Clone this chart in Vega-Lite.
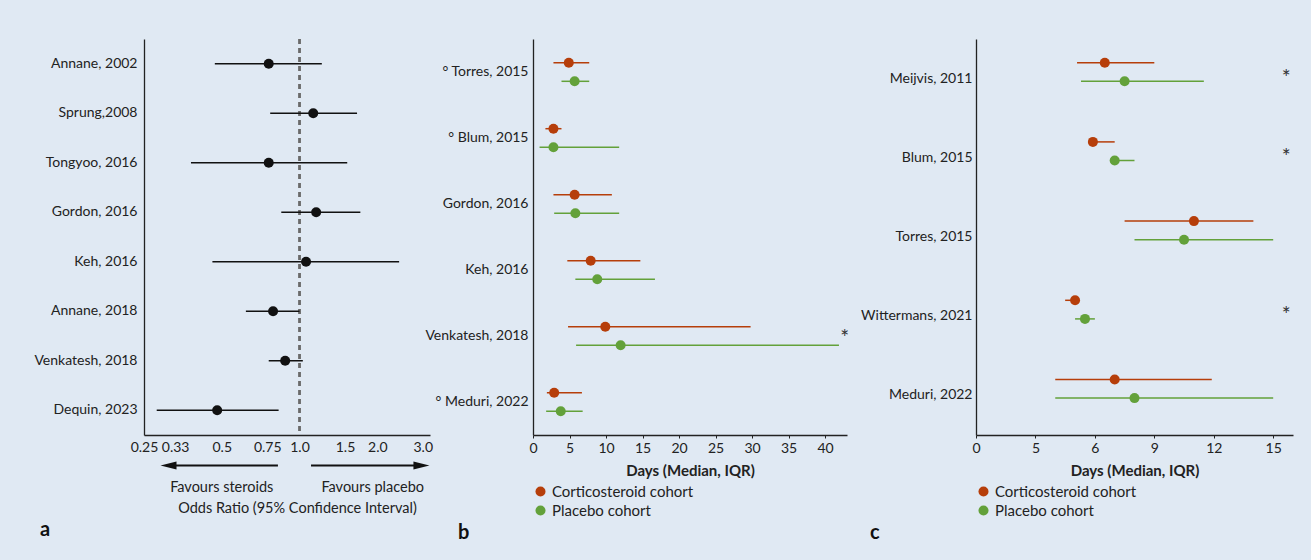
{
  "$schema": "https://vega.github.io/schema/vega-lite/v6.json",
  "background": "#e0e9f3",
  "padding": {"left": 8, "top": 38, "right": 18, "bottom": 24},
  "spacing": -9,
  "config": {
    "font": "Lato",
    "view": {"stroke": null},
    "axis": {"grid": false, "labelFontSize": 14, "labelColor": "#222", "domainColor": "#222", "domainWidth": 1.3, "tickColor": "#222", "titleColor": "#222"},
    "axisX": {"labelOverlap": false, "labelFlush": false},
    "text": {"font": "Lato"}
  },
  "resolve": {"scale": {"color": "independent"}, "legend": {"color": "independent"}},
  "hconcat": [
    {
      "width": 286,
      "height": 396,
      "title": {"text": "a", "orient": "bottom", "anchor": "start", "fontSize": 20, "fontWeight": "bold", "color": "#111", "dx": -104, "frame": "group"},
      "resolve": {"scale": {"y": "independent"}, "axis": {"y": "independent"}},
      "layer": [
        {
          "data": {"values": [
            {"study": "Annane, 2002", "or": 0.76, "lo": 0.47, "hi": 1.22},
            {"study": "Sprung,2008", "or": 1.13, "lo": 0.77, "hi": 1.67},
            {"study": "Tongyoo, 2016", "or": 0.76, "lo": 0.38, "hi": 1.53},
            {"study": "Gordon, 2016", "or": 1.16, "lo": 0.85, "hi": 1.72},
            {"study": "Keh, 2016", "or": 1.06, "lo": 0.46, "hi": 2.43},
            {"study": "Annane, 2018", "or": 0.79, "lo": 0.62, "hi": 1.0},
            {"study": "Venkatesh, 2018", "or": 0.88, "lo": 0.76, "hi": 1.03},
            {"study": "Dequin, 2023", "or": 0.48, "lo": 0.28, "hi": 0.83}
          ]},
          "encoding": {
            "y": {"field": "study", "type": "nominal", "sort": null,
              "scale": {"paddingInner": 0, "paddingOuter": 0},
              "axis": {"title": null, "ticks": false, "labelPadding": 7, "minExtent": 136, "labelLimit": 200}}
          },
          "layer": [
            {"mark": {"type": "rule", "strokeDash": [5, 4], "color": "#6a6a6a", "strokeWidth": 1.5},
             "encoding": {"x": {"datum": 1, "type": "quantitative"}, "y": null}},
            {"mark": {"type": "rule", "color": "#111", "strokeWidth": 1.3},
             "encoding": {
               "x": {"field": "lo", "type": "quantitative",
                 "scale": {"type": "log", "domain": [0.25, 3.2], "nice": false, "zero": false},
                 "axis": {"title": null, "values": [0.25, 0.33, 0.5, 0.75, 1, 1.5, 2, 3], "ticks": false, "labelFlush": false, "labelOverlap": false, "labelPadding": 5,
                   "labelExpr": "datum.value >= 1 ? format(datum.value, '.1f') : format(datum.value, '.2~f')"}},
               "x2": {"field": "hi"}}},
            {"mark": {"type": "point", "filled": true, "opacity": 1, "color": "#111", "size": 100},
             "encoding": {"x": {"field": "or", "type": "quantitative"}}}
          ]
        },
        {
          "data": {"values": [{}]},
          "layer": [
            {"mark": {"type": "rule", "color": "#111", "strokeWidth": 2},
             "encoding": {"x": {"datum": 0.32, "type": "quantitative"}, "x2": {"datum": 0.825},
               "y": {"datum": -0.077, "type": "quantitative", "scale": {"domain": [0, 1], "nice": false, "zero": false}, "axis": null}}},
            {"mark": {"type": "rule", "color": "#111", "strokeWidth": 2},
             "encoding": {"x": {"datum": 1.108, "type": "quantitative"}, "x2": {"datum": 2.9},
               "y": {"datum": -0.077, "type": "quantitative"}}},
            {"mark": {"type": "point", "shape": "M-1,0L1,-0.5L1,0.5Z", "filled": true, "opacity": 1, "color": "#111", "size": 256},
             "encoding": {"x": {"datum": 0.311, "type": "quantitative"}, "y": {"datum": -0.077, "type": "quantitative"}}},
            {"mark": {"type": "point", "shape": "M1,0L-1,-0.5L-1,0.5Z", "filled": true, "opacity": 1, "color": "#111", "size": 256},
             "encoding": {"x": {"datum": 2.965, "type": "quantitative"}, "y": {"datum": -0.077, "type": "quantitative"}}},
            {"mark": {"type": "text", "fontSize": 14.5, "color": "#222", "baseline": "middle"},
             "encoding": {"x": {"datum": 0.5, "type": "quantitative"}, "y": {"datum": -0.1326, "type": "quantitative"}, "text": {"value": "Favours steroids"}}},
            {"mark": {"type": "text", "fontSize": 14.5, "color": "#222", "baseline": "middle"},
             "encoding": {"x": {"datum": 1.92, "type": "quantitative"}, "y": {"datum": -0.1326, "type": "quantitative"}, "text": {"value": "Favours placebo"}}},
            {"mark": {"type": "text", "fontSize": 14.5, "color": "#222", "baseline": "middle"},
             "encoding": {"x": {"datum": 0.982, "type": "quantitative"}, "y": {"datum": -0.188, "type": "quantitative"}, "text": {"value": "Odds Ratio (95% Confidence Interval)"}}}
          ]
        }
      ]
    },
    {
      "width": 314,
      "height": 396,
      "title": {"text": "b", "orient": "bottom", "anchor": "start", "fontSize": 20, "fontWeight": "bold", "color": "#111", "dx": -75, "frame": "group"},
      "layer": [
        {
          "data": {"values": [
            {"study": "° Torres, 2015", "cohort": "Corticosteroid cohort", "median": 4.9, "q1": 2.8, "q3": 7.7},
            {"study": "° Torres, 2015", "cohort": "Placebo cohort", "median": 5.7, "q1": 3.9, "q3": 7.7},
            {"study": "° Blum, 2015", "cohort": "Corticosteroid cohort", "median": 2.8, "q1": 1.7, "q3": 3.9},
            {"study": "° Blum, 2015", "cohort": "Placebo cohort", "median": 2.8, "q1": 0.9, "q3": 11.8},
            {"study": "Gordon, 2016", "cohort": "Corticosteroid cohort", "median": 5.7, "q1": 2.8, "q3": 10.8},
            {"study": "Gordon, 2016", "cohort": "Placebo cohort", "median": 5.8, "q1": 2.9, "q3": 11.8},
            {"study": "Keh, 2016", "cohort": "Corticosteroid cohort", "median": 7.9, "q1": 4.7, "q3": 14.7},
            {"study": "Keh, 2016", "cohort": "Placebo cohort", "median": 8.8, "q1": 5.8, "q3": 16.7},
            {"study": "Venkatesh, 2018", "cohort": "Corticosteroid cohort", "median": 9.9, "q1": 4.8, "q3": 29.8},
            {"study": "Venkatesh, 2018", "cohort": "Placebo cohort", "median": 12.0, "q1": 5.9, "q3": 41.9},
            {"study": "° Meduri, 2022", "cohort": "Corticosteroid cohort", "median": 2.9, "q1": 1.9, "q3": 6.7},
            {"study": "° Meduri, 2022", "cohort": "Placebo cohort", "median": 3.8, "q1": 1.8, "q3": 6.8}
          ]},
          "encoding": {
            "y": {"field": "study", "type": "nominal", "sort": null,
              "scale": {"domain": ["° Torres, 2015", "° Blum, 2015", "Gordon, 2016", "Keh, 2016", "Venkatesh, 2018", "° Meduri, 2022"], "paddingInner": 0, "paddingOuter": 0},
              "axis": {"title": null, "ticks": false, "labelPadding": 5, "minExtent": 91, "labelLimit": 200}},
            "yOffset": {"field": "cohort", "type": "nominal", "scale": {"domain": ["Corticosteroid cohort", "Placebo cohort"], "paddingInner": 0, "paddingOuter": 0.774}},
            "color": {"field": "cohort", "type": "nominal", "scale": {"domain": ["Corticosteroid cohort", "Placebo cohort"], "range": ["#b63e0a", "#63a13a"]},
              "legend": {"orient": "bottom", "direction": "vertical", "title": null, "symbolType": "circle", "symbolSize": 100, "labelFontSize": 15, "labelColor": "#222", "symbolStrokeWidth": 0, "rowPadding": 3, "offset": 6}}
          },
          "layer": [
            {"mark": {"type": "rule", "strokeWidth": 1.5},
             "encoding": {
               "x": {"field": "q1", "type": "quantitative", "scale": {"domain": [0, 43], "nice": false},
                 "axis": {"title": "Days (Median, IQR)", "titleFontSize": 15, "titleFontWeight": "bold", "titlePadding": 8, "values": [0, 5, 10, 15, 20, 25, 30, 35, 40], "tickCount": 9, "tickSize": 3, "labelPadding": 3}},
               "x2": {"field": "q3"}}},
            {"mark": {"type": "point", "filled": true, "opacity": 1, "size": 100},
             "encoding": {"x": {"field": "median", "type": "quantitative",
                 "axis": {"title": "Days (Median, IQR)", "titleFontSize": 15, "titleFontWeight": "bold", "titlePadding": 8, "values": [0, 5, 10, 15, 20, 25, 30, 35, 40], "tickCount": 9, "tickSize": 3, "labelPadding": 3}}}}
          ]
        },
        {
          "data": {"values": [{"study": "Venkatesh, 2018", "sig": "*"}]},
          "mark": {"type": "text", "fontSize": 21, "color": "#333", "baseline": "middle", "dy": 3},
          "encoding": {"x": {"datum": 42.7, "type": "quantitative",
              "axis": {"title": "Days (Median, IQR)", "titleFontSize": 15, "titleFontWeight": "bold", "titlePadding": 8, "values": [0, 5, 10, 15, 20, 25, 30, 35, 40], "tickCount": 9, "tickSize": 3, "labelPadding": 3}},
            "y": {"field": "study", "type": "nominal"}, "text": {"field": "sig"}}
        }
      ]
    },
    {
      "width": 317,
      "height": 396,
      "title": {"text": "c", "orient": "bottom", "anchor": "start", "fontSize": 20, "fontWeight": "bold", "color": "#111", "dx": -106, "frame": "group"},
      "layer": [
        {
          "data": {"values": [
            {"study": "Meijvis, 2011", "cohort": "Corticosteroid cohort", "median": 6.5, "q1": 5.1, "q3": 9.0},
            {"study": "Meijvis, 2011", "cohort": "Placebo cohort", "median": 7.5, "q1": 5.3, "q3": 11.5},
            {"study": "Blum, 2015", "cohort": "Corticosteroid cohort", "median": 5.9, "q1": 5.9, "q3": 7.0},
            {"study": "Blum, 2015", "cohort": "Placebo cohort", "median": 7.0, "q1": 7.0, "q3": 8.0},
            {"study": "Torres, 2015", "cohort": "Corticosteroid cohort", "median": 11.0, "q1": 7.5, "q3": 14.0},
            {"study": "Torres, 2015", "cohort": "Placebo cohort", "median": 10.5, "q1": 8.0, "q3": 15.0},
            {"study": "Wittermans, 2021", "cohort": "Corticosteroid cohort", "median": 5.0, "q1": 4.5, "q3": 5.0},
            {"study": "Wittermans, 2021", "cohort": "Placebo cohort", "median": 5.5, "q1": 5.0, "q3": 6.0},
            {"study": "Meduri, 2022", "cohort": "Corticosteroid cohort", "median": 7.0, "q1": 4.0, "q3": 11.9},
            {"study": "Meduri, 2022", "cohort": "Placebo cohort", "median": 8.0, "q1": 4.0, "q3": 15.0}
          ]},
          "encoding": {
            "y": {"field": "study", "type": "nominal", "sort": null,
              "scale": {"domain": ["Meijvis, 2011", "Blum, 2015", "Torres, 2015", "Wittermans, 2021", "Meduri, 2022"], "paddingInner": 0, "paddingOuter": 0},
              "axis": {"title": null, "ticks": false, "labelPadding": 4, "minExtent": 135, "labelLimit": 200}},
            "yOffset": {"field": "cohort", "type": "nominal", "scale": {"domain": ["Corticosteroid cohort", "Placebo cohort"], "paddingInner": 0, "paddingOuter": 0.98}},
            "color": {"field": "cohort", "type": "nominal", "scale": {"domain": ["Corticosteroid cohort", "Placebo cohort"], "range": ["#b63e0a", "#63a13a"]},
              "legend": {"orient": "bottom", "direction": "vertical", "title": null, "symbolType": "circle", "symbolSize": 100, "labelFontSize": 15, "labelColor": "#222", "symbolStrokeWidth": 0, "rowPadding": 3, "offset": 6}}
          },
          "layer": [
            {"mark": {"type": "rule", "strokeWidth": 1.5},
             "encoding": {
               "x": {"field": "q1", "type": "quantitative", "scale": {"domain": [0, 16], "nice": false},
                 "axis": {"title": "Days (Median, IQR)", "titleFontSize": 15, "titleFontWeight": "bold", "titlePadding": 8, "values": [0, 3, 6, 9, 12, 15], "tickSize": 3, "labelPadding": 3,
                   "labelExpr": "datum.value == 3 ? '5' : datum.label"}},
               "x2": {"field": "q3"}}},
            {"mark": {"type": "point", "filled": true, "opacity": 1, "size": 100},
             "encoding": {"x": {"field": "median", "type": "quantitative",
                 "axis": {"title": "Days (Median, IQR)", "titleFontSize": 15, "titleFontWeight": "bold", "titlePadding": 8, "values": [0, 3, 6, 9, 12, 15], "tickSize": 3, "labelPadding": 3,
                   "labelExpr": "datum.value == 3 ? '5' : datum.label"}}}}
          ]
        },
        {
          "data": {"values": [
            {"study": "Meijvis, 2011", "sig": "*"},
            {"study": "Blum, 2015", "sig": "*"},
            {"study": "Wittermans, 2021", "sig": "*"}
          ]},
          "mark": {"type": "text", "fontSize": 21, "color": "#333", "baseline": "middle", "dy": 0},
          "encoding": {"x": {"datum": 15.66, "type": "quantitative",
              "axis": {"title": "Days (Median, IQR)", "titleFontSize": 15, "titleFontWeight": "bold", "titlePadding": 8, "values": [0, 3, 6, 9, 12, 15], "tickSize": 3, "labelPadding": 3,
                   "labelExpr": "datum.value == 3 ? '5' : datum.label"}},
            "y": {"field": "study", "type": "nominal"}, "text": {"field": "sig"}}
        }
      ]
    }
  ]
}
